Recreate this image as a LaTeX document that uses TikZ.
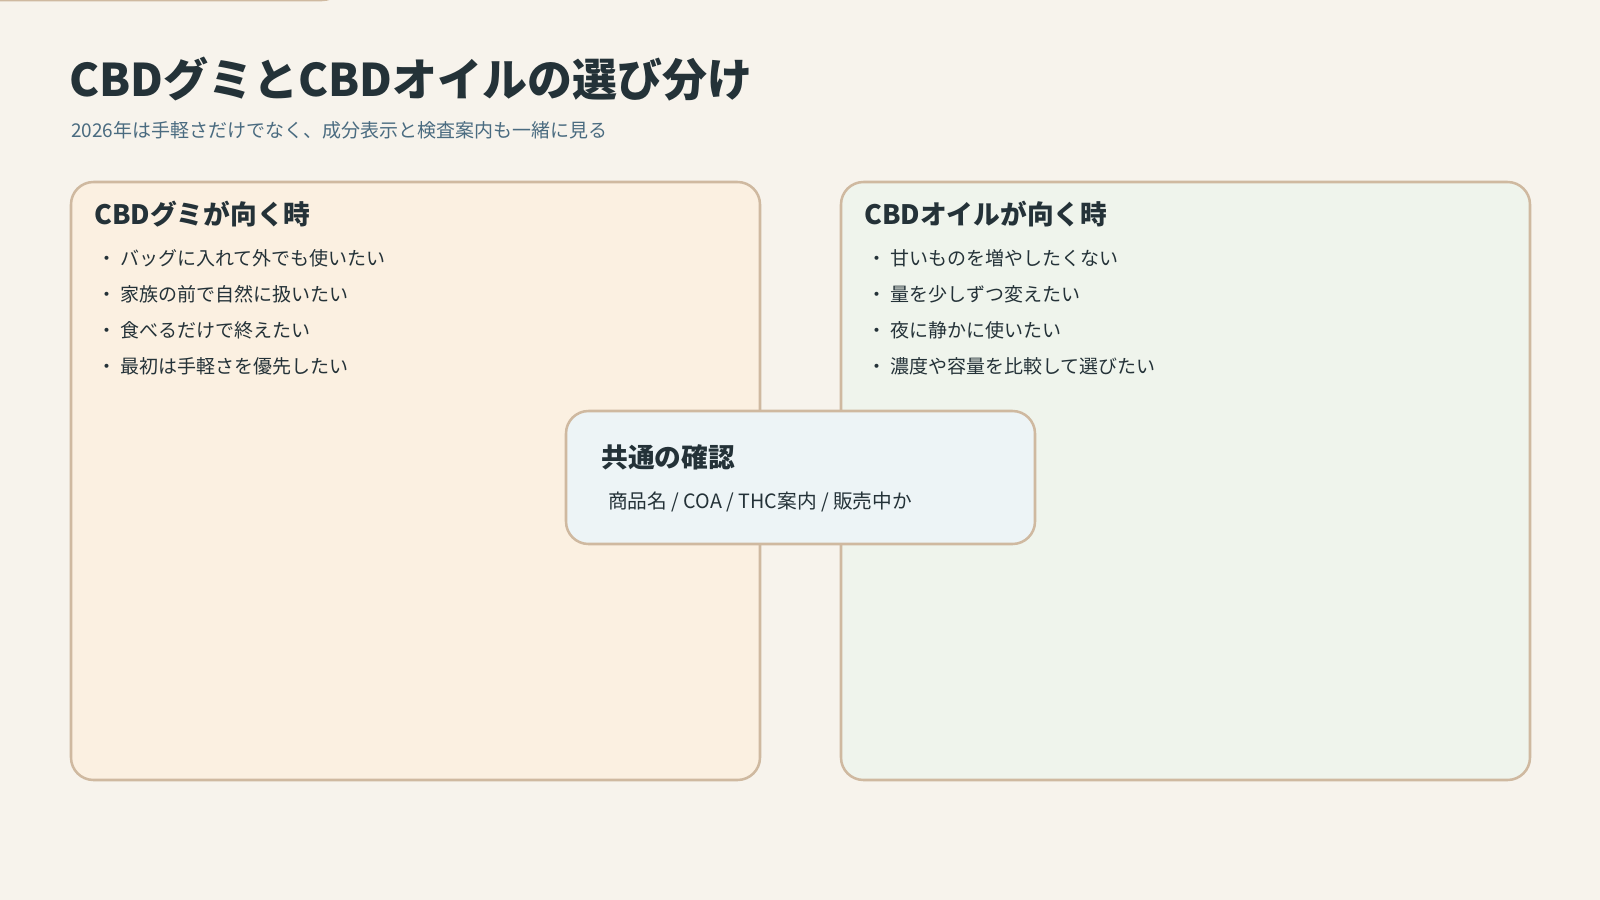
\documentclass[tikz,border=0pt]{standalone}
\usepackage{fontspec}
\setmainfont{Noto Sans CJK JP}
\usetikzlibrary{positioning}
\definecolor{bgc}{HTML}{F7F3EC}
\definecolor{leftc}{HTML}{FBF0E1}
\definecolor{rightc}{HTML}{EFF4EC}
\definecolor{midc}{HTML}{EDF4F6}
\definecolor{edgec}{HTML}{CFB9A0}
\definecolor{inkc}{HTML}{243238}
\definecolor{subc}{HTML}{4A6B80}
\tikzset{
  card/.style = {draw=edgec, line width=1.8pt, rounded corners=16pt, inner sep=0pt},
  head/.style = {anchor=base west, inner sep=0pt, text=inkc, font=\fontsize{19}{23}\selectfont\bfseries},
  item/.style = {anchor=base west, inner sep=0pt, text=inkc, font=\fontsize{13.5}{16}\selectfont},
}
\begin{document}
\begin{tikzpicture}[x=0.025cm, y=-0.025cm]
	\fill[bgc] (0,0) rectangle (1600,900);
	\useasboundingbox (0,0) rectangle (1600,900);
	% title
	\node[anchor=base west, inner sep=0pt, text=inkc, font=\fontsize{32}{38}\selectfont\bfseries] (title) at (69,97) {CBDグミとCBDオイルの選び分け};
	\node[anchor=base west, inner sep=0pt, text=subc, font=\fontsize{13.5}{16}\selectfont] (sub) at (71,137) {2026年は手軽さだけでなく、成分表示と検査案内も一緒に見る};
	% cards
	\node[card, fill=leftc, minimum width=689\pgflinewidth/1.8pt*0.025cm, minimum height=0pt] (gummy) at (0,0) {};
	\draw[card, fill=leftc] (71,182) rectangle (760,780);
	\draw[card, fill=rightc] (841,182) rectangle (1530,780);
	\node[head] (gummyhead) at (94,224) {CBDグミが向く時};
	\node[item] (g1) at (97,265) {・ バッグに入れて外でも使いたい};
	\node[item] (g2) at (97,301) {・ 家族の前で自然に扱いたい};
	\node[item] (g3) at (97,337) {・ 食べるだけで終えたい};
	\node[item] (g4) at (97,373) {・ 最初は手軽さを優先したい};
	\node[head] (oilhead) at (864,224) {CBDオイルが向く時};
	\node[item] (o1) at (867,265) {・ 甘いものを増やしたくない};
	\node[item] (o2) at (867,301) {・ 量を少しずつ変えたい};
	\node[item] (o3) at (867,337) {・ 夜に静かに使いたい};
	\node[item] (o4) at (867,373) {・ 濃度や容量を比較して選びたい};
	% common check
	\draw[card, fill=midc] (566,411) rectangle (1035,544);
	\node[head] (commonhead) at (601,467) {共通の確認};
	\node[item, font=\fontsize{14}{17}\selectfont] (common) at (608,508) {商品名 / COA / THC案内 / 販売中か};
\end{tikzpicture}
\end{document}
